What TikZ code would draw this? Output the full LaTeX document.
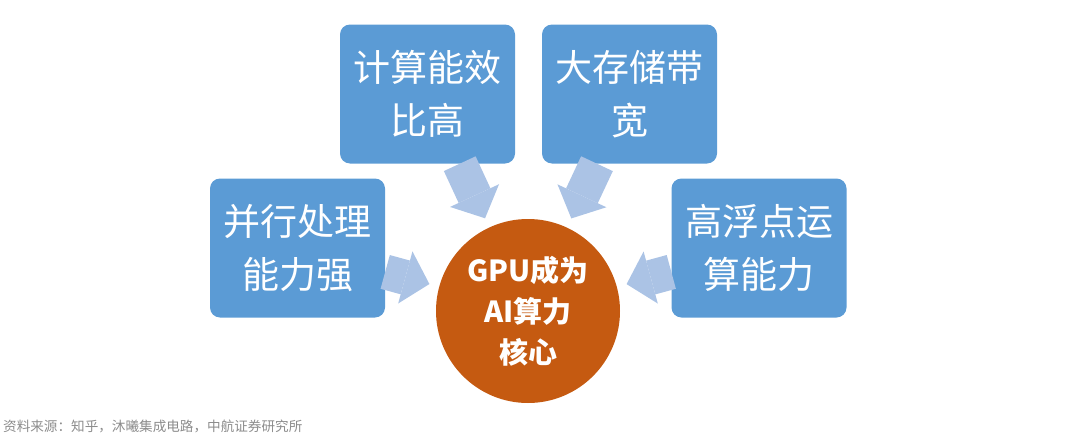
\documentclass[tikz,border=0pt]{standalone}
\usepackage{fontspec}
\usepackage{tikz}
\usetikzlibrary{arrows.meta}
\newfontfamily\cjk{Noto Sans CJK SC}
\definecolor{boxblue}{HTML}{5B9BD5}
\definecolor{flow}{HTML}{ABC3E5}
\definecolor{core}{HTML}{C55A11}
\definecolor{srcgray}{HTML}{8C8C8C}

\begin{document}
\begin{tikzpicture}[x=1pt,y=-1pt,
  feature/.style={rectangle,rounded corners=10pt,fill=boxblue,text=white,
    minimum width=175pt,minimum height=139pt,inner sep=0pt,align=center,
    font=\cjk\fontsize{37}{53}\selectfont},
  hub/.style={circle,fill=core,text=white,minimum size=184pt,inner sep=0pt,
    align=center,font=\cjk\bfseries\fontsize{29}{41}\selectfont},
  flowarrow/.style={flow,line width=35pt,shorten >=10pt,
    -{Triangle[length=25pt,width=54pt,line width=0pt]}}]
  \useasboundingbox (0,0) rectangle (1080,442);
  % four features around the core
  \node[feature] (parallel) at (297.5,248) {并行处理\\能力强};
  \node[feature] (energy) at (427.5,94) {计算能效\\比高};
  \node[feature] (bandwidth) at (629.5,94) {大存储带\\宽};
  \node[feature] (float) at (759,248) {高浮点运\\算能力};
  \node[hub] (gpu) at (528,311) {GPU成为\\AI算力\\核心};
  \draw[flowarrow] (parallel) -- (gpu);
  \draw[flowarrow] (energy) -- (gpu);
  \draw[flowarrow] (bandwidth) -- (gpu);
  \draw[flowarrow] (float) -- (gpu);
  \node[anchor=west,inner sep=0pt,text=srcgray,font=\cjk\fontsize{13.6}{15}\selectfont] (source) at (3,426)
    {资料来源：知乎，沐曦集成电路，中航证券研究所};
\end{tikzpicture}
\end{document}
